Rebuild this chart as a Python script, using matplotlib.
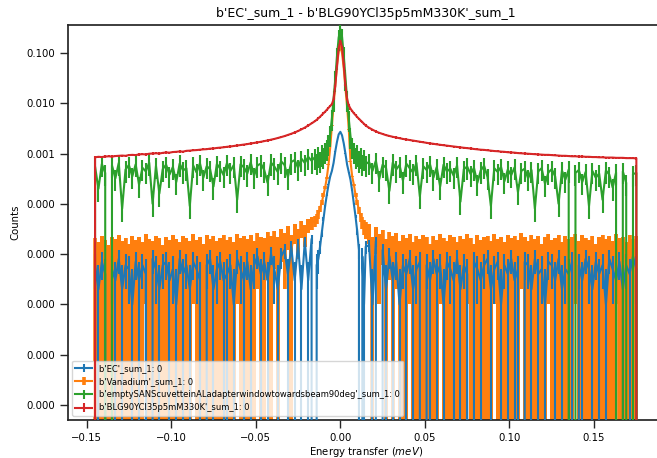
import numpy as np
import matplotlib
matplotlib.use("Agg")
import matplotlib.pyplot as plt
from matplotlib.ticker import FormatStrFormatter, NullLocator

# energy bins (meV): coarse outside the elastic line, fine across it
energy = np.concatenate([
    [-0.146],
    np.arange(-0.145, -0.016, 0.002),
    np.arange(-0.015, 0.0155, 0.001),
    np.arange(0.017, 0.1755, 0.002),
    [0.176],
])

# ---- EC (blue), units of 1e-6 outside the peak
ec_left = [6, 2, 7, 4, 0, 5, 3, 8, 2, 6,
           5, 1, 7, 3, 6, 4, 0, 8, 5, 2,
           6, 7, 3, 5, 1, 8, 4, 6, 2, 7,
           5, 3, 0, 6, 8, 2, 5, 7, 3, 4,
           6, 1, 8, 5, 3, 7, 2, 6, 9, 4,
           7, 3, 10, 5, 2, 9, 12, 4, 14, 3,
           16, 2, 18, 3, 20]
ec_mid = [0.0, 6e-6, 8e-6, 1.4e-5, 2.6e-5, 5.0e-5, 9.0e-5, 1.5e-4, 2.4e-4, 3.5e-4,
          4.5e-4, 6.5e-4, 1.1e-3, 1.7e-3, 2.4e-3, 2.7e-3, 2.3e-3, 1.6e-3, 1.0e-3, 6.0e-4,
          4.2e-4, 3.0e-4, 1.8e-4, 1.0e-4, 5.5e-5, 2.8e-5, 1.2e-5, 0.0, 9e-6, 1e-6, 1.4e-5]
ec_right = [15, 1, 18, 0, 12, 2, 9, 3, 7, 1,
            6, 4, 8, 2, 5, 7, 0, 6, 3, 8,
            4, 6, 1, 7, 5, 3, 8, 2, 6, 4,
            0, 7, 5, 3, 6, 8, 2, 5, 7, 1,
            6, 4, 8, 3, 5, 0, 7, 6, 2, 8,
            4, 5, 1, 7, 6, 3, 8, 2, 5, 4,
            7, 0, 6, 3, 8, 5, 2, 7, 4, 6,
            1, 8, 5, 3, 7, 2, 6, 4, 9, 5]

# ---- Vanadium (orange), units of 1e-6 outside the peak
van_left = [9, 5, 11, 7, 3, 10, 8, 12, 6, 9,
            4, 11, 7, 10, 5, 13, 8, 6, 11, 9,
            3, 10, 7, 12, 8, 5, 11, 9, 6, 13,
            7, 10, 4, 12, 8, 11, 6, 9, 12, 7,
            10, 5, 13, 9, 11, 8, 12, 6, 14, 10,
            9, 15, 11, 17, 10, 19, 14, 24, 12, 28,
            20, 33, 26, 38, 42]
van_mid = [4.6e-5, 5.2e-5, 6.2e-5, 8.0e-5, 1.05e-4, 1.5e-4, 2.1e-4, 3.3e-4, 6.0e-4, 1.3e-3,
           3.6e-3, 9.5e-3, 2.3e-2, 5.5e-2, 1.05e-1, 1.35e-1, 1.0e-1, 5.0e-2, 2.0e-2, 8.5e-3,
           3.0e-3, 7.0e-4, 3.5e-4, 2.4e-4, 1.5e-4, 1.05e-4, 7.5e-5, 5.5e-5, 4.3e-5, 3.6e-5, 3.2e-5]
van_right = [28, 10, 22, 13, 18, 8, 15, 11, 14, 6,
             12, 9, 13, 5, 11, 8, 12, 10, 4, 11,
             7, 13, 9, 6, 12, 10, 5, 11, 8, 13,
             9, 4, 12, 7, 10, 11, 6, 13, 8, 10,
             5, 12, 9, 11, 7, 14, 10, 6, 12, 8,
             11, 4, 10, 13, 7, 9, 12, 5, 11, 8,
             10, 13, 6, 12, 9, 7, 11, 4, 10, 12,
             8, 11, 6, 13, 9, 10, 5, 12, 8, 11]

# ---- empty SANS cuvette (green), units of 1e-4 outside the peak
emp_left = [5.5, 2.0, 6.2, 4.1, 0.0, 5.8, 3.2, 6.5, 0.8, 4.8,
            5.9, 3.5, 6.1, 2.4, 5.2, 4.4, 6.6, 1.0, 5.7, 1.6,
            4.9, 6.0, 3.8, 5.4, 2.7, 6.3, 4.6, 5.1, 0.9, 5.8,
            4.2, 6.4, 3.3, 5.6, 4.9, 2.2, 6.2, 5.0, 3.7, 6.5,
            4.5, 5.9, 1.2, 6.1, 5.3, 4.0, 6.7, 3.6, 5.8, 6.3,
            4.7, 2.6, 6.6, 5.5, 4.3, 7.0, 5.9, 3.4, 6.8, 7.4,
            5.2, 7.9, 6.5, 8.6, 7.2]
emp_mid = [8.5e-4, 6.8e-4, 9.2e-4, 7.5e-4, 1.0e-3, 8.8e-4, 1.1e-3, 1.3e-3, 1.6e-3, 2.4e-3,
           5.0e-3, 1.2e-2, 3.0e-2, 8.5e-2, 2.0e-1, 3.0e-1, 2.1e-1, 9.0e-2, 3.2e-2, 1.2e-2,
           4.8e-3, 2.2e-3, 1.4e-3, 1.1e-3, 9.0e-4, 1.0e-3, 7.6e-4, 8.8e-4, 6.5e-4, 8.0e-4, 6.2e-4]
emp_right = [6.8, 4.5, 7.2, 3.1, 6.0, 5.2, 1.8, 6.6, 4.8, 5.9,
             2.9, 6.3, 5.1, 4.2, 6.5, 1.4, 5.6, 4.7, 6.1, 3.3,
             5.4, 2.2, 6.0, 4.4, 5.0, 3.6, 5.8, 1.1, 4.9, 5.5,
             3.9, 5.2, 2.6, 4.6, 5.7, 3.4, 0.9, 5.1, 4.3, 5.4,
             2.8, 4.8, 3.7, 5.3, 1.7, 4.5, 5.0, 3.2, 4.7, 0.8,
             4.4, 5.1, 2.5, 4.2, 4.9, 3.5, 1.0, 4.6, 3.0, 4.8,
             0.0, 4.1, 4.7, 2.7, 4.3, 0.9, 4.5, 3.3, 4.0, 1.2,
             4.6, 3.8, 2.1, 4.2, 0.0, 4.4, 2.6, 0.0, 3.9, 4.1]

# ---- BLG90YCl35p5mM330K (red), units of 1e-4 outside the peak
blg_left = [8.4, 8.6, 8.5, 8.7, 8.8, 8.7, 8.9, 9.0, 9.1, 9.0,
            9.3, 9.4, 9.3, 9.6, 9.7, 9.6, 9.9, 10.0, 10.1, 10.0,
            10.3, 10.5, 10.4, 10.7, 10.8, 11.0, 10.9, 11.3, 11.4, 11.6,
            11.7, 11.9, 12.1, 12.2, 12.5, 12.6, 12.9, 13.1, 13.3, 13.6,
            13.8, 14.1, 14.4, 14.7, 15.0, 15.4, 15.8, 16.2, 16.6, 17.1,
            17.6, 18.2, 18.8, 19.5, 20.3, 21.2, 22.2, 23.4, 24.7, 26.2,
            28.0, 30.2, 32.8, 36.0, 39.8]
blg_mid = [4.4e-3, 4.7e-3, 5.0e-3, 5.4e-3, 5.8e-3, 6.3e-3, 6.8e-3, 7.4e-3, 8.0e-3, 8.7e-3,
           9.6e-3, 1.2e-2, 2.2e-2, 5.5e-2, 1.25e-1, 1.75e-1, 1.3e-1, 6.0e-2, 2.3e-2, 1.2e-2,
           9.0e-3, 7.8e-3, 7.0e-3, 6.3e-3, 5.8e-3, 5.3e-3, 4.9e-3, 4.5e-3, 4.2e-3, 3.9e-3, 3.6e-3]
blg_right = [32.5, 29.8, 27.5, 25.8, 24.4, 23.2, 22.3, 21.5, 20.8, 20.1,
             19.5, 19.0, 18.5, 18.0, 17.6, 17.1, 16.7, 16.3, 15.9, 15.6,
             15.2, 14.9, 14.6, 14.3, 14.0, 13.7, 13.5, 13.2, 13.0, 12.8,
             12.6, 12.3, 12.1, 11.9, 11.8, 11.6, 11.4, 11.2, 11.1, 10.9,
             10.8, 10.6, 10.5, 10.4, 10.2, 10.1, 10.0, 9.9, 9.8, 9.7,
             9.6, 9.5, 9.4, 9.4, 9.3, 9.2, 9.1, 9.0, 9.0, 8.9,
             8.8, 8.8, 8.7, 8.7, 8.6, 8.6, 8.5, 8.5, 8.4, 8.4,
             8.3, 8.3, 8.3, 8.2, 8.2, 8.2, 8.1, 8.1, 8.1, 8.0]

# uncertainties: absolute on the weak spectra, relative on the strong ones
abs_err = {"ec": 4e-6, "van": 1.2e-5}
rel_err = {"emp": 0.45, "blg": 0.05}

labels = ["b'EC'_sum_1: 0",
          "b'Vanadium'_sum_1: 0",
          "b'emptySANScuvetteinALadapterwindowtowardsbeam90deg'_sum_1: 0",
          "b'BLG90YCl35p5mM330K'_sum_1: 0"]
title = "b'EC'_sum_1 - b'BLG90YCl35p5mM330K'_sum_1"

YMIN, YMAX = 5.0e-9, 0.36


def build(left, mid, right, unit):
    y = np.concatenate([[0.0], np.array(left) * unit, mid, np.array(right) * unit, [0.0]])
    assert len(y) == len(energy), len(y)
    return y


def bars(y, err):
    # a bar whose lower end falls below zero is drawn down to just under the axis bottom;
    # empty bins get no bar at all (log axis cannot place them)
    err = np.array(np.broadcast_to(err, y.shape), dtype=float)
    floor = 0.9 * YMIN
    lower = np.where(y - err > floor, err, np.clip(y - floor, 0, None))
    upper = err.copy()
    empty = y <= 0
    lower[empty] = np.nan
    upper[empty] = np.nan
    return np.vstack([lower, upper])


ec = build(ec_left, ec_mid, ec_right, 1e-6)
van = build(van_left, van_mid, van_right, 1e-6)
emp = build(emp_left, emp_mid, emp_right, 1e-4)
blg = build(blg_left, blg_mid, blg_right, 1e-4)

spectra = [
    (ec, bars(ec, abs_err["ec"]), "#1f77b4", 3, 1.5),
    (van, bars(van, abs_err["van"]), "#ff7f0e", 2, 2.6),
    (emp, bars(emp, rel_err["emp"] * emp), "#2ca02c", 4, 1.5),
    (blg, bars(blg, rel_err["blg"] * blg), "#d62728", 5, 1.5),
]

fig = plt.figure(figsize=(6.57, 4.58), dpi=100)
ax = fig.add_axes([0.1035, 0.083, 0.8965, 0.8624])

for (y, yerr, color, z, elw), label in zip(spectra, labels):
    ax.errorbar(energy, y, yerr=yerr, color=color, lw=1.5, elinewidth=elw,
                zorder=z, label=label)

# the Vanadium error bars overlap into a solid band; draw that band as bin-wide boxes
van_err = spectra[1][1]
lo_end = van - van_err[0]
hi_end = van + van_err[1]
ok = np.isfinite(lo_end)
bin_width = np.gradient(energy) * 1.1
ax.bar(energy[ok], (hi_end - lo_end)[ok], bottom=lo_end[ok], width=bin_width[ok],
       color="#ff7f0e", linewidth=0, zorder=1.95)

ax.set_yscale("log")
ax.set_ylim(YMIN, YMAX)
ax.set_xlim(-0.161, 0.1872)
ax.set_yticks([1e-8, 1e-7, 1e-6, 1e-5, 1e-4, 1e-3, 1e-2, 1e-1])
ax.yaxis.set_major_formatter(FormatStrFormatter("%.3f"))
ax.yaxis.set_minor_locator(NullLocator())

for side in ["left", "bottom", "top"]:
    ax.spines[side].set_color("0.15")
    ax.spines[side].set_linewidth(1.25)
ax.spines["right"].set_visible(False)
ax.tick_params(axis="both", length=6, width=1.0, labelsize=7.3, color="0.15")

ax.set_title(title, fontsize=9, x=0.5064)
ax.set_xlabel("Energy transfer ($meV$)", fontsize=7.3, labelpad=1, x=0.5064)
ax.set_ylabel("Counts", fontsize=7.3)
ax.legend(loc="lower left", fontsize=6)

fig.savefig("out.png", dpi=100)
